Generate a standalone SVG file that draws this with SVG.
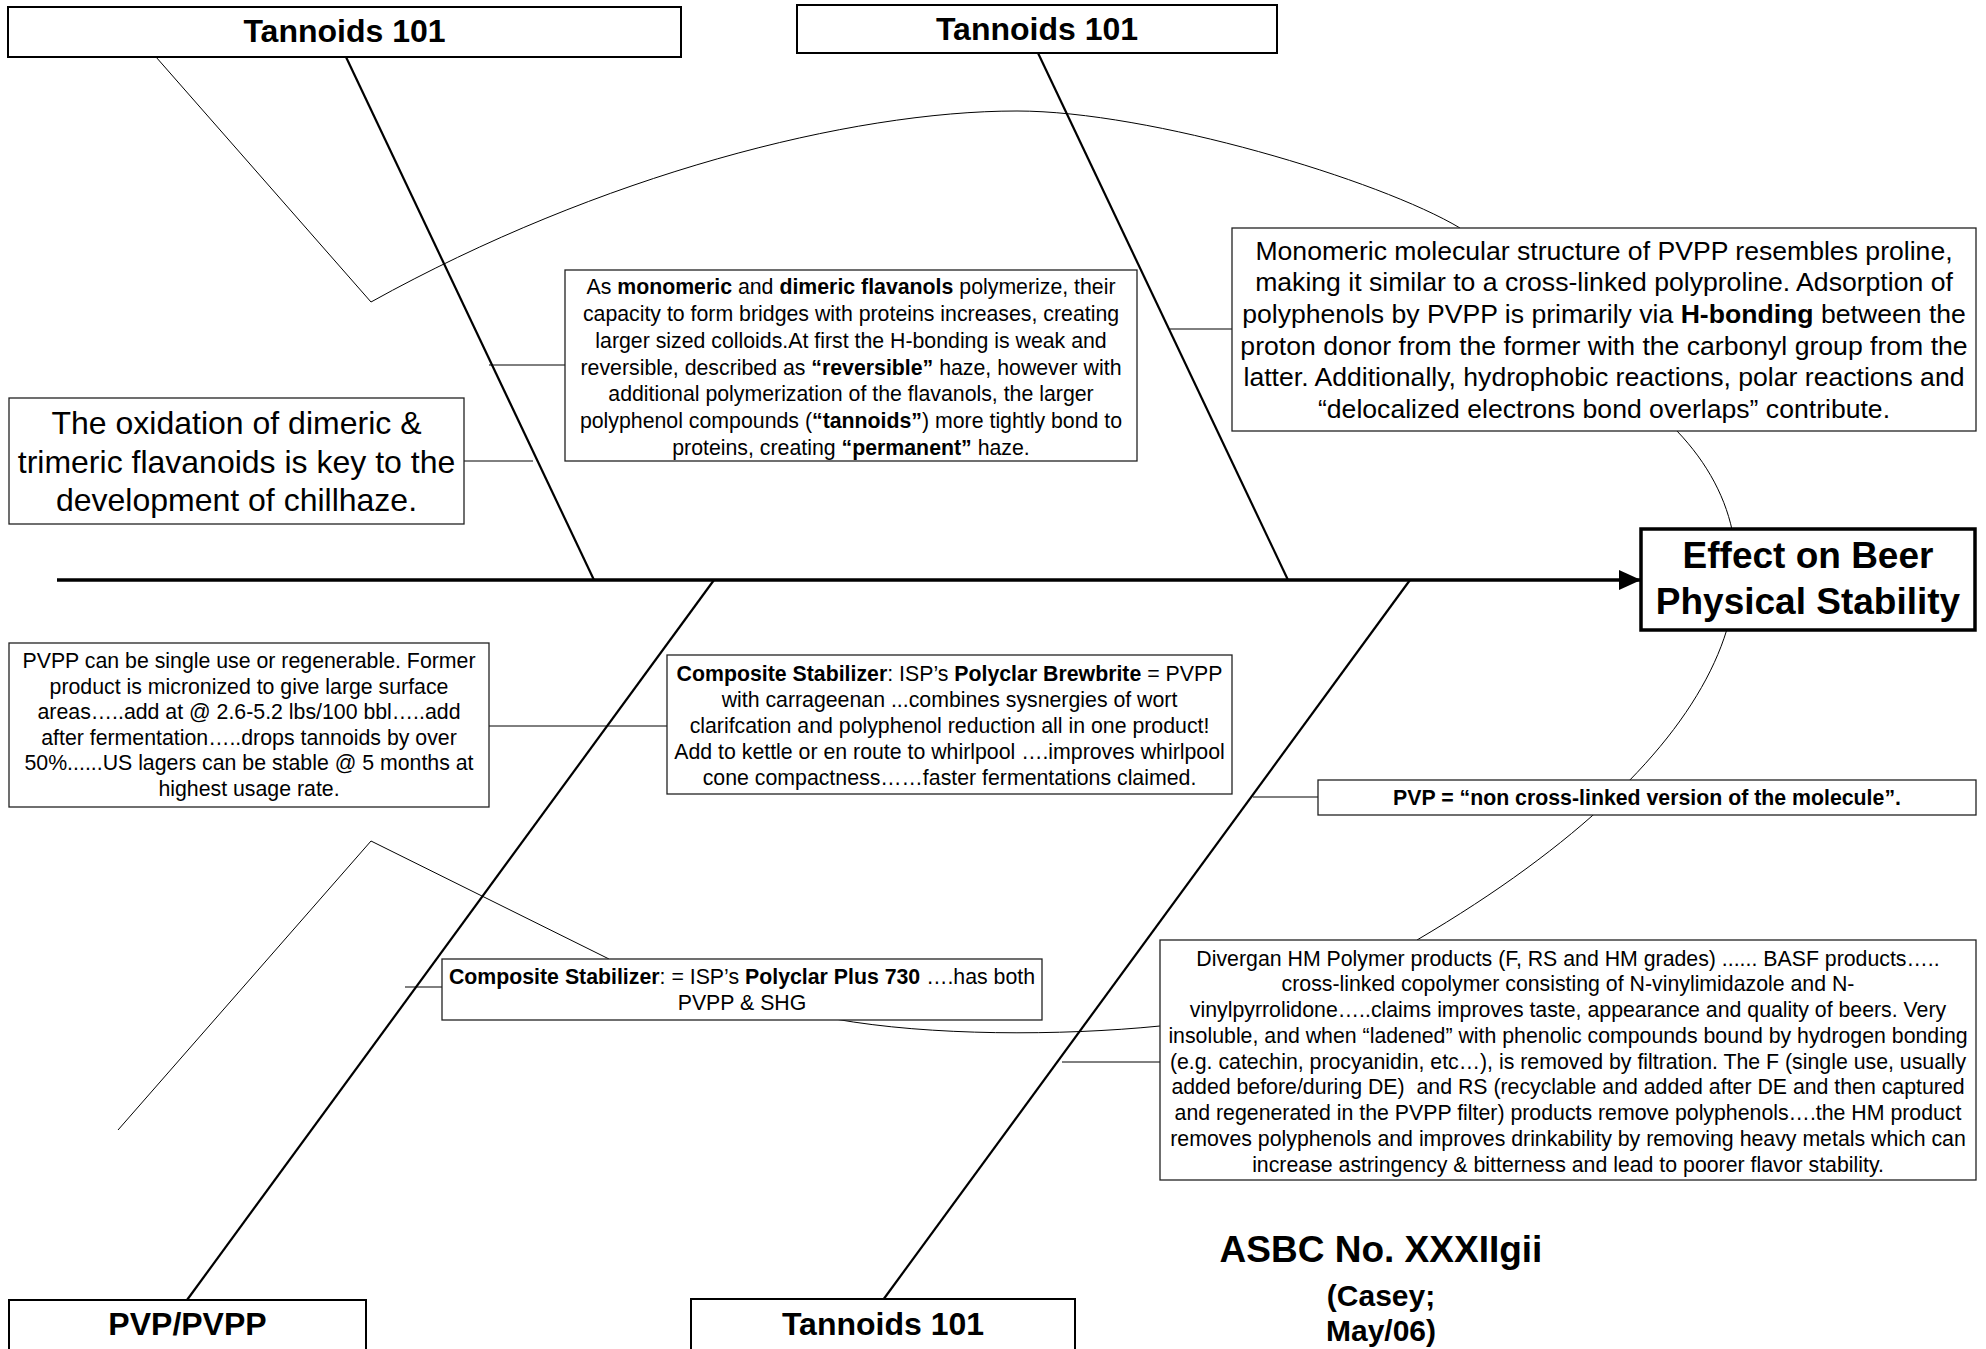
<svg xmlns="http://www.w3.org/2000/svg" width="1986" height="1349" viewBox="0 0 1986 1349">
<defs>
<marker id="arrow" markerUnits="userSpaceOnUse" markerWidth="22" markerHeight="20" refX="22" refY="10" orient="auto"><path d="M0,0 L22,10 L0,20 Z" fill="#000"/></marker>
</defs>
<style>
text{font-family:"Liberation Sans",Arial,Helvetica,sans-serif;fill:#000;text-anchor:middle}
.b{font-weight:bold}
.s{font-size:21.3px}
.m{font-size:26.6px}
.l{font-size:32px}
.h{font-size:32px;font-weight:bold}
.box{fill:#fff;stroke:#222;stroke-width:1.3}
.ttl{fill:#fff;stroke:#000;stroke-width:2}
.bone{stroke-width:2.2}
.thin{stroke-width:1}
</style>
<rect width="1986" height="1349" fill="#fff"/>
<g id="connectors" fill="none" stroke="#000">
<line x1="57" y1="580" x2="1641" y2="580" stroke-width="3.5" marker-end="url(#arrow)"/>
<line class="bone" x1="346" y1="57" x2="594" y2="580"/>
<line class="bone" x1="1038" y1="53" x2="1288" y2="580"/>
<line class="bone" x1="187" y1="1300" x2="714" y2="580"/>
<line class="bone" x1="883" y1="1300" x2="1410" y2="580"/>
<path class="thin" d="M156,57 L371,302 C600,175 850,111 1017,111 C1150,111 1380,180 1460,228"/>
<path class="thin" d="M1677,431 C1800,560 1740,750 1417,940"/>
<polyline class="thin" points="118,1130 371,841 609,959"/>
<path class="thin" d="M835,1019 C930,1036 1060,1036 1160,1026"/>
<line class="thin" x1="464" y1="461" x2="533" y2="461"/>
<line class="thin" x1="489" y1="365" x2="565" y2="365"/>
<line class="thin" x1="1170" y1="329" x2="1232" y2="329"/>
<line class="thin" x1="489" y1="726" x2="667" y2="726"/>
<line class="thin" x1="1253" y1="797" x2="1318" y2="797"/>
<line class="thin" x1="1062" y1="1062" x2="1160" y2="1062"/>
<line class="thin" x1="405" y1="987" x2="442" y2="987"/>
</g>
<g id="tannoids-top-left">
<rect class="ttl" x="8" y="7" width="673" height="50"/>
<text class="h" x="344.5" y="42">Tannoids 101</text>
</g>
<g id="tannoids-top-mid">
<rect class="ttl" x="797" y="5" width="480" height="48"/>
<text class="h" x="1037" y="40">Tannoids 101</text>
</g>
<g id="pvp-pvpp">
<rect class="ttl" x="9" y="1300" width="357" height="70"/>
<text class="h" x="187.5" y="1335">PVP/PVPP</text>
</g>
<g id="tannoids-bottom">
<rect class="ttl" x="691" y="1299" width="384" height="70"/>
<text class="h" x="883" y="1335">Tannoids 101</text>
</g>
<g id="effect">
<rect x="1641" y="529" width="334" height="101" fill="#fff" stroke="#000" stroke-width="3.5"/>
<text class="b" style="font-size:37px" x="1808" y="568">Effect on Beer</text>
<text class="b" style="font-size:37px" x="1808" y="614">Physical Stability</text>
</g>
<g id="oxidation">
<rect class="box" x="9" y="398" width="455" height="126"/>
<text class="l" x="236.5" y="434">The oxidation of dimeric &amp;</text>
<text class="l" x="236.5" y="472.5">trimeric flavanoids is key to the</text>
<text class="l" x="236.5" y="511">development of chillhaze.</text>
</g>
<g id="flavanols">
<rect class="box" x="565" y="270" width="572" height="191"/>
<text class="s" x="851" y="294">As <tspan class="b">monomeric</tspan> and <tspan class="b">dimeric flavanols</tspan> polymerize, their</text>
<text class="s" x="851" y="321">capacity to form bridges with proteins increases, creating</text>
<text class="s" x="851" y="348">larger sized colloids.At first the H-bonding is weak and</text>
<text class="s" x="851" y="375">reversible, described as <tspan class="b">“reversible”</tspan> haze, however with</text>
<text class="s" x="851" y="401">additional polymerization of the flavanols, the larger</text>
<text class="s" x="851" y="428">polyphenol compounds (<tspan class="b">“tannoids”</tspan>) more tightly bond to</text>
<text class="s" x="851" y="455">proteins, creating <tspan class="b">“permanent”</tspan> haze.</text>
</g>
<g id="pvpp-structure">
<rect class="box" x="1232" y="228" width="744" height="203"/>
<text class="m" x="1604" y="259.5">Monomeric molecular structure of PVPP resembles proline,</text>
<text class="m" x="1604" y="291.2">making it similar to a cross-linked polyproline. Adsorption of</text>
<text class="m" x="1604" y="322.9">polyphenols by PVPP is primarily via <tspan class="b">H-bonding</tspan> between the</text>
<text class="m" x="1604" y="354.6">proton donor from the former with the carbonyl group from the</text>
<text class="m" x="1604" y="386.3">latter. Additionally, hydrophobic reactions, polar reactions and</text>
<text class="m" x="1604" y="418">“delocalized electrons bond overlaps” contribute.</text>
</g>
<g id="pvpp-usage">
<rect class="box" x="9" y="643" width="480" height="164"/>
<text class="s" x="249" y="668">PVPP can be single use or regenerable. Former</text>
<text class="s" x="249" y="693.5">product is micronized to give large surface</text>
<text class="s" x="249" y="719">areas…..add at @ 2.6-5.2 lbs/100 bbl…..add</text>
<text class="s" x="249" y="744.5">after fermentation…..drops tannoids by over</text>
<text class="s" x="249" y="770">50%......US lagers can be stable @ 5 months at</text>
<text class="s" x="249" y="795.5">highest usage rate.</text>
</g>
<g id="brewbrite">
<rect class="box" x="667" y="655" width="565" height="139"/>
<text class="s" x="949.5" y="680.5"><tspan class="b">Composite Stabilizer</tspan>: ISP’s <tspan class="b">Polyclar Brewbrite</tspan> = PVPP</text>
<text class="s" x="949.5" y="706.5">with carrageenan ...combines sysnergies of wort</text>
<text class="s" x="949.5" y="732.5">clarifcation and polyphenol reduction all in one product!</text>
<text class="s" x="949.5" y="758.5">Add to kettle or en route to whirlpool ….improves whirlpool</text>
<text class="s" x="949.5" y="784.5">cone compactness……faster fermentations claimed.</text>
</g>
<g id="pvp">
<rect class="box" x="1318" y="780" width="658" height="35"/>
<text class="s b" x="1647" y="805">PVP = “non cross-linked version of the molecule”.</text>
</g>
<g id="polyclar-plus">
<rect class="box" x="442" y="959" width="600" height="61"/>
<text class="s" x="742" y="984"><tspan class="b">Composite Stabilizer</tspan>: = ISP’s <tspan class="b">Polyclar Plus 730</tspan> ….has both</text>
<text class="s" x="742" y="1010">PVPP &amp; SHG</text>
</g>
<g id="divergan">
<rect class="box" x="1160" y="940" width="816" height="240"/>
<text class="s" x="1568" y="965.5">Divergan HM Polymer products (F, RS and HM grades) ...... BASF products…..</text>
<text class="s" x="1568" y="991.3">cross-linked copolymer consisting of N-vinylimidazole and N-</text>
<text class="s" x="1568" y="1017">vinylpyrrolidone…..claims improves taste, appearance and quality of beers. Very</text>
<text class="s" x="1568" y="1042.8">insoluble, and when “ladened” with phenolic compounds bound by hydrogen bonding</text>
<text class="s" x="1568" y="1068.5">(e.g. catechin, procyanidin, etc…), is removed by filtration. The F (single use, usually</text>
<text class="s" x="1568" y="1094.3" xml:space="preserve">added before/during DE)  and RS (recyclable and added after DE and then captured</text>
<text class="s" x="1568" y="1120">and regenerated in the PVPP filter) products remove polyphenols….the HM product</text>
<text class="s" x="1568" y="1145.8">removes polyphenols and improves drinkability by removing heavy metals which can</text>
<text class="s" x="1568" y="1171.5">increase astringency &amp; bitterness and lead to poorer flavor stability.</text>
</g>
<g id="asbc">
<text class="b" style="font-size:37px" x="1381" y="1262">ASBC No. XXXIIgii</text>
<text class="b" style="font-size:30px" x="1381" y="1306">(Casey;</text>
<text class="b" style="font-size:30px" x="1381" y="1341">May/06)</text>
</g>
</svg>
